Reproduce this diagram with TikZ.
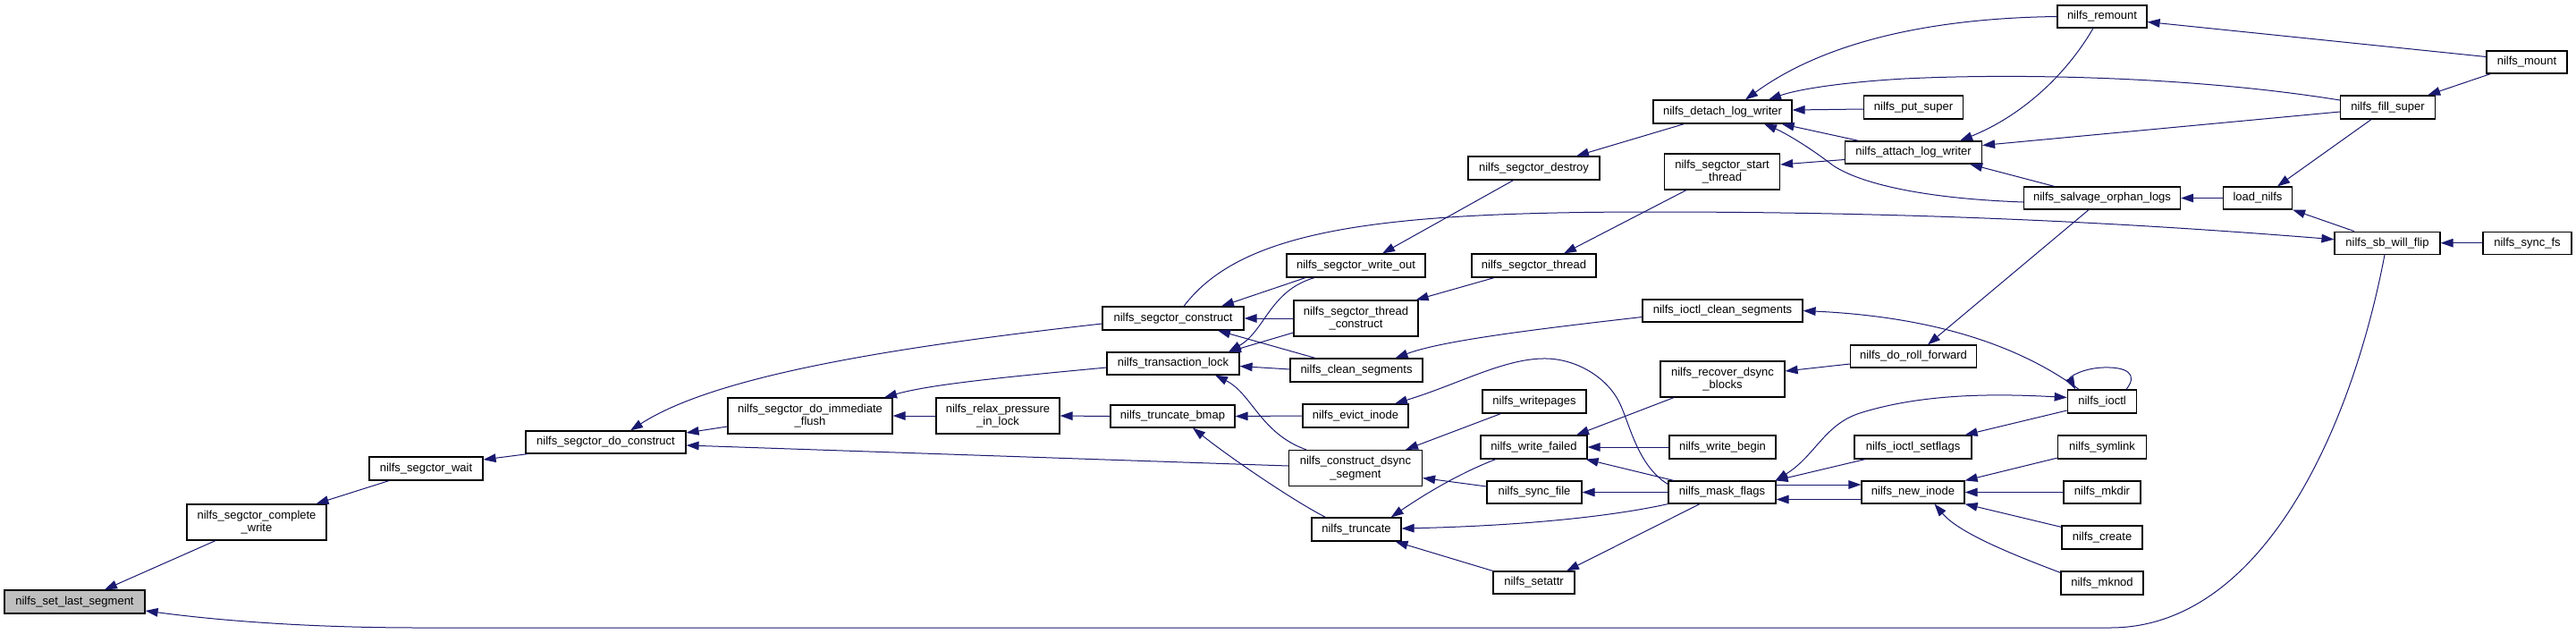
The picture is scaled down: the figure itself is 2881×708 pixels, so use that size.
\documentclass[tikz,border=0pt]{standalone}
\usepackage{fontspec}
\setmainfont{Liberation Sans}
\usetikzlibrary{arrows.meta,calc}
\definecolor{edgeblue}{HTML}{191970}
\definecolor{rootgray}{HTML}{BFBFBF}
\begin{document}
\begin{tikzpicture}[x=0.5pt,y=-0.5pt,
  box/.style={draw=black,line width=0.6pt,fill=white,inner sep=0pt,align=center,font=\fontsize{6.5}{7.35}\selectfont},
  bw/.style={minimum width=#1*0.5pt},
  bh/.style={minimum height=#1*0.5pt},
  arr/.style={draw=edgeblue,line width=0.5pt,-{Triangle[length=7pt,width=4.8pt]}},
  arrb/.style={draw=edgeblue,line width=0.5pt,{Triangle[length=7pt,width=4.8pt]}-{Triangle[length=7pt,width=4.8pt]}}]
\useasboundingbox (0,0) rectangle (2881,708);
% nodes
\node[box,bw=157,bh=26,fill=rootgray] (setlast) at (83.5,673) {nilfs\_set\_last\_segment};
\node[box,bw=156,bh=40] (complete) at (287,584) {nilfs\_segctor\_complete\\\_write};
\node[box,bw=127,bh=26] (wait) at (476.5,524) {nilfs\_segctor\_wait};
\node[box,bw=179,bh=25] (doconstruct) at (677.5,494.5) {nilfs\_segctor\_do\_construct};
\node[box,bw=184,bh=40] (immflush) at (906,465) {nilfs\_segctor\_do\_immediate\\\_flush};
\node[box,bw=138,bh=40] (relax) at (1116,465) {nilfs\_relax\_pressure\\\_in\_lock};
\node[box,bw=139,bh=25] (truncbmap) at (1311.5,465.5) {nilfs\_truncate\_bmap};
\node[box,bw=148,bh=25] (translock) at (1312,406.5) {nilfs\_transaction\_lock};
\node[box,bw=158,bh=26] (construct) at (1312,356) {nilfs\_segctor\_construct};
\node[box,bw=155,bh=26] (detach) at (1926.5,125) {nilfs\_detach\_log\_writer};
\node[box,bw=147,bh=26] (destroy) at (1715.5,188) {nilfs\_segctor\_destroy};
\node[box,bw=129,bh=40] (startthread) at (1926,192) {nilfs\_segctor\_start\\\_thread};
\node[box,bw=155,bh=26] (writeout) at (1516.5,297) {nilfs\_segctor\_write\_out};
\node[box,bw=139,bh=26] (thread) at (1715.5,297) {nilfs\_segctor\_thread};
\node[box,bw=139,bh=40] (threadconstruct) at (1516.5,356) {nilfs\_segctor\_thread\\\_construct};
\node[box,bw=179,bh=25] (ioctlclean) at (1926.5,347.5) {nilfs\_ioctl\_clean\_segments};
\node[box,bw=148,bh=26] (clean) at (1517,414) {nilfs\_clean\_segments};
\node[box,bw=118,bh=26] (evict) at (1516,465) {nilfs\_evict\_inode};
\node[box,bw=116,bh=26] (writepages) at (1716,449) {nilfs\_writepages};
\node[box,bw=149,bh=40] (dsync) at (1516,523.5) {nilfs\_construct\_dsync\\\_segment};
\node[box,bw=119,bh=26] (writefailed) at (1715.5,500) {nilfs\_write\_failed};
\node[box,bw=106,bh=25] (syncfile) at (1716,550.5) {nilfs\_sync\_file};
\node[box,bw=100,bh=26] (truncate) at (1517,592) {nilfs\_truncate};
\node[box,bw=91,bh=25] (setattr) at (1715.5,651.5) {nilfs\_setattr};
\node[box,bw=139,bh=40] (recover) at (1926.5,424) {nilfs\_recover\_dsync\\\_blocks};
\node[box,bw=119,bh=26] (writebegin) at (1926.5,500) {nilfs\_write\_begin};
\node[box,bw=120,bh=25] (maskflags) at (1926,550.5) {nilfs\_mask\_flags};
\node[box,bw=141,bh=25] (rollfwd) at (2140,398.5) {nilfs\_do\_roll\_forward};
\node[box,bw=131,bh=26] (ioctlsetflags) at (2139.5,500) {nilfs\_ioctl\_setflags};
\node[box,bw=115,bh=25] (newinode) at (2139.5,550.5) {nilfs\_new\_inode};
\node[box,bw=100,bh=25] (remount) at (2351,18.5) {nilfs\_remount};
\node[box,bw=90,bh=25] (mount) at (2826,69.5) {nilfs\_mount};
\node[box,bw=106,bh=26] (fillsuper) at (2670.5,120) {nilfs\_fill\_super};
\node[box,bw=111,bh=26] (putsuper) at (2140,120) {nilfs\_put\_super};
\node[box,bw=153,bh=25] (attach) at (2140,170.5) {nilfs\_attach\_log\_writer};
\node[box,bw=175,bh=25] (salvage) at (2351,221.5) {nilfs\_salvage\_orphan\_logs};
\node[box,bw=77,bh=25] (loadnilfs) at (2525,221.5) {load\_nilfs};
\node[box,bw=118,bh=25] (sbflip) at (2670,271.7) {nilfs\_sb\_will\_flip};
\node[box,bw=99,bh=25] (syncfs) at (2826.5,271.7) {nilfs\_sync\_fs};
\node[box,bw=77.5,bh=26] (ioctl) at (2351,449) {nilfs\_ioctl};
\node[box,bw=99,bh=26] (symlink) at (2351,500) {nilfs\_symlink};
\node[box,bw=86,bh=25] (mkdir) at (2351,550.5) {nilfs\_mkdir};
\node[box,bw=90,bh=26] (create) at (2351,601) {nilfs\_create};
\node[box,bw=92,bh=26] (mknod) at (2351,652) {nilfs\_mknod};
% edges
\draw[arr] ($(complete.south)+(-46,0)$) -- ($(setlast.north)+(33.5,0)$);
\draw[arr] ($(sbflip.south)+(-3,0)$) .. controls (2630,480) and (2530,702) .. (2360,702) -- (470,702) .. controls (330,702) and (230,692) .. ($(setlast.east)+(0,10)$);
\draw[arr] ($(wait.south)+(-41.5,0)$) -- ($(complete.north)+(66.5,0)$);
\draw[arr] ($(doconstruct.south west)+(3,0)$) -- ($(wait.east)+(0,-10)$);
\draw[arr] ($(construct.west)+(0,6)$) .. controls (1000,388) and (800,420) .. ($(doconstruct.north)+(27.5,0)$);
\draw[arr] ($(immflush.west)+(0,12)$) -- ($(doconstruct.east)+(0,-10.5)$);
\draw[arr] ($(dsync.west)+(0,-2.5)$) -- ($(doconstruct.east)+(0,3.5)$);
\draw[arr] ($(translock.west)+(0,4.5)$) .. controls (1120,422) and (1040,430) .. ($(immflush.north)+(83,0)$);
\draw[arr] (relax.west) -- (immflush.east);
\draw[arr] (truncbmap.west) -- (relax.east);
\draw[arr] (evict.west) -- (truncbmap.east);
\draw[arr] ($(truncate.north)+(-34.5,0)$) .. controls (1450,562) and (1380,515) .. ($(truncbmap.south)+(22.5,0)$);
\draw[arr] ($(clean.north)+(-46,0)$) -- ($(construct.south)+(50,0)$);
\draw[arr] ($(threadconstruct.west)+(0,16)$) -- ($(translock.north)+(62,0)$);
\draw[arr] ($(writeout.south)+(-46.5,0)$) .. controls (1420,325) and (1415,370) .. ($(translock.north)+(62,0)$);
\draw[arr] (threadconstruct.west) -- (construct.east);
\draw[arr] ($(writeout.south)+(-56.5,0)$) -- ($(construct.north)+(54,0)$);
\draw[arr] ($(construct.north)+(12,0)$) .. controls (1390,255) and (1550,237) .. (1850,237) .. controls (2200,237) and (2450,255) .. ($(sbflip.west)+(0,-4)$);
\draw[arr] ($(clean.west)+(0,-1)$) -- ($(translock.east)+(0,3)$);
\draw[arr] ($(dsync.north)+(-55,0)$) .. controls (1410,485) and (1400,440) .. ($(translock.south)+(47,0)$);
\draw[arr] ($(destroy.south)+(-23,0)$) -- ($(writeout.north)+(29.5,0)$);
\draw[arr] ($(detach.south)+(-43,0)$) -- ($(destroy.north)+(47.5,0)$);
\draw[arr] ($(startthread.south)+(-40,0)$) -- ($(thread.north)+(33.5,0)$);
\draw[arr] ($(attach.west)+(0,8)$) -- ($(startthread.east)+(0,-8)$);
\draw[arr] ($(thread.south)+(-44.5,0)$) -- ($(threadconstruct.north east)+(-3,0)$);
\draw[arr] ($(ioctlclean.west)+(0,7)$) .. controls (1700,370) and (1610,382) .. ($(clean.north)+(43.5,0)$);
\draw[arr] ($(ioctl.north)+(-26,0)$) .. controls (2270,395) and (2180,355) .. (ioctlclean.east);
\draw[arr] ($(ioctl.north)+(27,0)$) .. controls (2392,418) and (2378,410) .. (2352,411) .. controls (2328,412) and (2314,422) .. ($(ioctl.north)+(-30,0)$);
\draw[arr] ($(rollfwd.west)+(0,8.5)$) -- ($(recover.east)+(0,-9)$);
\draw[arr] ($(salvage.south)+(-15,0)$) -- ($(rollfwd.north)+(16,0)$);
\draw[arr] ($(recover.south)+(-54.5,0)$) -- ($(writefailed.north)+(47.5,0)$);
\draw[arr] ($(writepages.south)+(-37.5,0)$) -- ($(dsync.north)+(56,0)$);
\draw[arr] ($(maskflags.west)+(0,-9)$) .. controls (1830,520) and (1822,470) .. (1810,448) .. controls (1795,420) and (1760,400) .. (1725,401) .. controls (1680,402) and (1630,430) .. ($(evict.north)+(44,0)$);
\draw[arr] (writebegin.west) -- (writefailed.east);
\draw[arr] ($(maskflags.north)+(-54,0)$) -- ($(writefailed.south east)+(-2,0)$);
\draw[arr] ($(writefailed.south)+(-42.7,0)$) .. controls (1630,530) and (1590,555) .. ($(truncate.north)+(38.7,0)$);
\draw[arr] ($(syncfile.west)+(0,-6.5)$) -- ($(dsync.east)+(0,11)$);
\draw[arr] (maskflags.west) -- (syncfile.east);
\draw[arr] (maskflags.south west) .. controls (1800,578) and (1700,588) .. ($(truncate.east)+(0,-1)$);
\draw[arr] (setattr.north west) -- ($(truncate.south)+(43.5,0)$);
\draw[arr] ($(maskflags.south)+(-25,0)$) -- ($(setattr.north)+(36.5,0)$);
\draw[arrb] ($(maskflags.north east)+(-1,0)$) .. controls (2030,510) and (2040,475) .. (2080,462) .. controls (2150,440) and (2230,440) .. ($(ioctl.west)+(0,-4.5)$);
\draw[arr] ($(newinode.west)+(0,8)$) -- ($(maskflags.east)+(0,8)$);
\draw[arr] ($(maskflags.east)+(0,-8.5)$) -- ($(newinode.west)+(0,-8.5)$);
\draw[arr] ($(ioctlsetflags.south west)+(12.6,0)$) -- ($(maskflags.north east)+(-1,0)$);
\draw[arr] ($(ioctl.west)+(0,10)$) -- ($(ioctlsetflags.north east)+(-8,0)$);
\draw[arr] ($(symlink.south west)+(0,-1.5)$) -- (newinode.north east);
\draw[arr] (mkdir.west) -- (newinode.east);
\draw[arr] ($(create.north west)+(0,2)$) -- (newinode.south east);
\draw[arr] ($(mknod.north west)+(0,2)$) .. controls (2245,618) and (2190,595) .. ($(newinode.south)+(24,0)$);
\draw[arr] (remount.west) .. controls (2180,20) and (2050,40) .. ($(detach.north)+(25.5,0)$);
\draw[arr] ($(fillsuper.west)+(0,-8)$) .. controls (2450,85) and (2250,82) .. (2130,88) .. controls (2060,92) and (2010,100) .. ($(detach.north)+(51.5,0)$);
\draw[arr] ($(putsuper.west)+(0,2)$) -- ($(detach.east)+(0,-2)$);
\draw[arr] ($(attach.north west)+(16,0)$) -- ($(detach.south east)+(-12,0)$);
\draw[arr] ($(salvage.west)+(0,4.5)$) .. controls (2150,222) and (2080,205) .. (2050,185) .. controls (2020,162) and (1995,148) .. ($(detach.south)+(46.5,0)$);
\draw[arr] ($(remount.south)+(-10,0)$) .. controls (2310,85) and (2260,130) .. ($(attach.north)+(52,0)$);
\draw[arr] ($(fillsuper.west)+(0,5)$) -- ($(attach.east)+(0,-8)$);
\draw[arr] ($(salvage.north)+(-53.4,0)$) -- ($(attach.south east)+(-14,0)$);
\draw[arr] ($(mount.west)+(0,-6)$) -- ($(remount.east)+(0,6)$);
\draw[arr] ($(mount.south west)+(5,0)$) -- ($(fillsuper.north east)+(-9,0)$);
\draw[arr] ($(fillsuper.south)+(-18.5,0)$) -- ($(loadnilfs.north)+(22,0)$);
\draw[arr] (loadnilfs.west) -- (salvage.east);
\draw[arr] ($(sbflip.north)+(-37,0)$) -- (loadnilfs.south east);
\draw[arr] (syncfs.west) -- (sbflip.east);
\end{tikzpicture}
\end{document}
